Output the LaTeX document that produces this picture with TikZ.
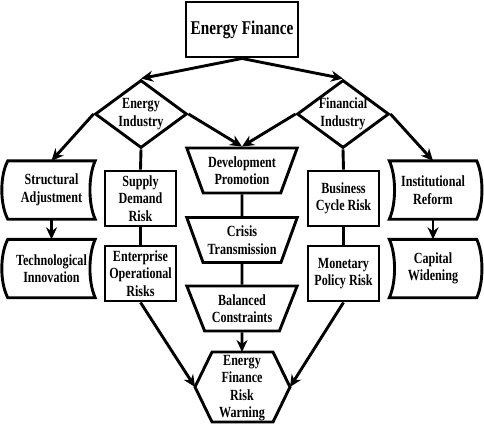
\documentclass[tikz,border=0pt]{standalone}
\usepackage{fontspec}
\newfontfamily\labfont{Liberation Serif}[FakeStretch=0.78]
\usetikzlibrary{calc,shapes.geometric,arrows.meta}
\def\storeleft(#1){\draw[edge] (#1.north west) -- (#1.north east) .. controls ($(#1.north east)+(-7,15)$) and ($(#1.south east)+(-7,-15)$) .. (#1.south east) -- (#1.south west) .. controls ($(#1.south west)+(-8,-15)$) and ($(#1.north west)+(-8,15)$) .. (#1.north west) -- cycle;}
\def\storeright(#1){\draw[edge] (#1.north west) -- (#1.north east) .. controls ($(#1.north east)+(7,15)$) and ($(#1.south east)+(7,-15)$) .. (#1.south east) -- (#1.south west) .. controls ($(#1.south west)+(7,-15)$) and ($(#1.north west)+(7,15)$) .. (#1.north west) -- cycle;}

\begin{document}
\begin{tikzpicture}[x=1pt, y=-1pt,
	edge/.style={line width=2.9pt},
	every node/.style={font=\labfont\bfseries\fontsize{15.5}{17.5}\selectfont, align=center},
	box/.style={draw, edge, minimum width=71pt, minimum height=55pt, inner sep=1pt},
	choice/.style={draw, edge, diamond, aspect=1.35, inner sep=0pt, minimum width=92pt, minimum height=68pt},
	flowtrap/.style={draw, edge, trapezium, shape border rotate=180, trapezium angle=64, trapezium stretches=true, minimum width=111pt, minimum height=45pt, inner sep=1pt},
	store/.style={minimum width=87pt, minimum height=58pt, inner sep=0pt},
	arrowlink/.style={edge, -{Stealth[length=12pt,width=11pt]}}]
		%%%%% START %%%%%
		\useasboundingbox (0,0) rectangle (484,424);
		
		\node[box, minimum width=112pt, font=\labfont\bfseries\fontsize{19.5}{22}\selectfont] (ef) at (242,29.5) {Energy Finance};
		
		\node[choice] (ei) at (141,114) {Energy\\Industry};
		\node[choice] (fi) at (343,114) {Financial\\Industry};
		
		\node[store] (sa) at (51.5,190) {Structural\\Adjustment};
		\node[store] (ti) at (51.5,268.5) {Technological\\Innovation};
		\storeleft(sa)
		\storeleft(ti)
		
		\node[store] (ir) at (433,190) {Institutional\\Reform};
		\node[store] (cw) at (433,268.5) {Capital\\Widening};
		\storeright(ir)
		\storeright(cw)
		
		\node[box] (sd) at (140.5,198.5) {Supply\\Demand\\Risk};
		\node[box] (eo) at (140.5,273.5) {Enterprise\\Operational\\Risks};
		\node[box] (bcr) at (343.5,198.5) {Business\\Cycle Risk};
		\node[box] (mp) at (343.5,273.5) {Monetary\\Policy Risk};
		
		\node[flowtrap] (dp) at (242,170.5) {Development\\Promotion};
		\node[flowtrap] (ct) at (242,240) {Crisis\\Transmission};
		\node[flowtrap] (bal) at (242,308.5) {Balanced\\Constraints};
		
		% warning hexagon
		\coordinate (wl) at (195,387);
		\coordinate (wr) at (290,387);
		\coordinate (wt) at (242,352);
		\draw[edge] (wl) -- (212,352) -- (wt) -- (273,352) -- (wr) -- (273,422) -- (212,422) -- cycle;
		\node (warn) at (242,388) {Energy\\Finance\\Risk\\Warning};
		
		\draw[arrowlink] (ef.south) -- (ei.north);
		\draw[arrowlink] (ef.south) -- (fi.north);
		\draw[arrowlink] (ei.west) -- (sa.north);
		\draw[arrowlink] (ei.east) -- (dp.north);
		\draw[arrowlink] (fi.west) -- (dp.north);
		\draw[arrowlink] (fi.east) -- (ir.north);
		
		\draw[edge] (ei.south) -- (sd.north);
		\draw[edge] (sd) -- (eo);
		\draw[edge] (fi.south) -- (bcr.north);
		\draw[edge] (bcr) -- (mp);
		\draw[edge] (dp) -- (ct);
		\draw[edge] (ct) -- (bal);
		
		\draw[arrowlink] (sa) -- (ti);
		\draw[arrowlink] (ir) -- (cw);
		\draw[arrowlink] (bal.south) -- (wt);
		\draw[arrowlink] (eo.south) -- (wl);
		\draw[arrowlink] (mp.south) -- (wr);
		%%%%% END %%%%%
\end{tikzpicture}
\end{document}
